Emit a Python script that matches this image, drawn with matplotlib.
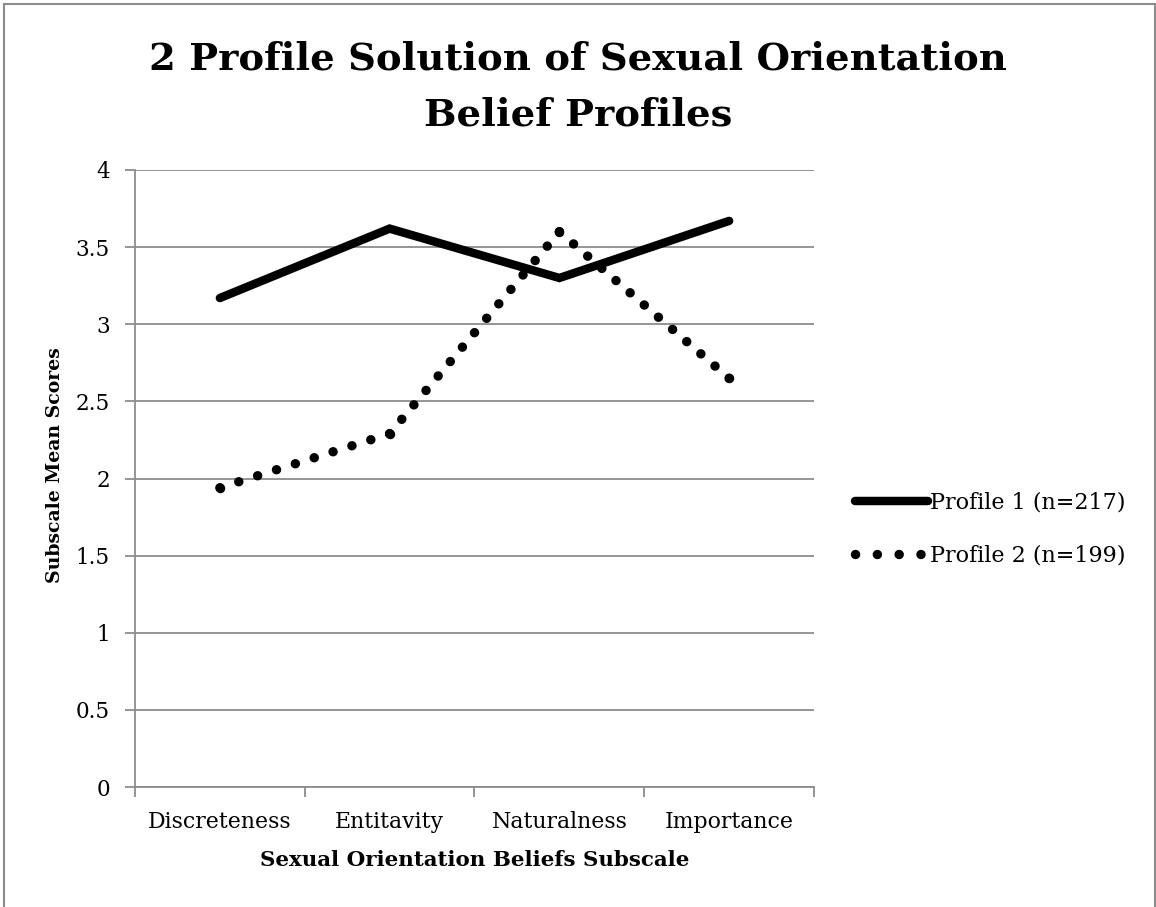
import matplotlib
matplotlib.use("Agg")
import matplotlib.pyplot as plt
from matplotlib.patches import Rectangle
from matplotlib.lines import Line2D
import numpy as np

categories = ["Discreteness", "Entitavity", "Naturalness", "Importance"]
profile1 = [3.17, 3.62, 3.30, 3.67]
profile2 = [1.94, 2.29, 3.60, 2.65]
label1 = "Profile 1 (n=217)"
label2 = "Profile 2 (n=199)"
yticks = [0, 0.5, 1, 1.5, 2, 2.5, 3, 3.5, 4]
title_lines = ["2 Profile Solution of Sexual Orientation", "Belief Profiles"]
xlabel = "Sexual Orientation Beliefs Subscale"
ylabel = "Subscale Mean Scores"

FONT = "DejaVu Serif"
plt.rcParams["font.family"] = FONT

DPI = 100
W, H = 1156, 907
fig = plt.figure(figsize=(W / DPI, H / DPI), dpi=DPI)
L, R, T, B = 135, 814, 170, 787
ax = fig.add_axes([L / W, 1 - B / H, (R - L) / W, (B - T) / H])

x = np.arange(len(categories))
ax.set_xlim(-0.5, len(categories) - 0.5)
ax.set_ylim(0, 4)

grid_c = "#8c8c8c"
ax.set_yticks(yticks)
ax.set_yticklabels([f"{v:g}" for v in yticks], fontsize=15.5)
ax.yaxis.grid(True, color=grid_c, linewidth=1.3)
ax.set_axisbelow(True)
ax.set_xticks(x)
ax.set_xticklabels(categories, fontsize=15.8)
ax.set_xticks(np.arange(-0.5, len(categories), 1), minor=True)
ax.tick_params(axis="x", which="major", length=0, pad=17.5)
ax.tick_params(axis="x", which="minor", length=7, color=grid_c, width=1.3, direction="out")
ax.tick_params(axis="y", length=7, color=grid_c, width=1.3, pad=11)
for s in ["top", "right"]:
    ax.spines[s].set_visible(False)
for s in ["left", "bottom"]:
    ax.spines[s].set_color(grid_c)
    ax.spines[s].set_linewidth(1.3)

# Profile 1: solid line
LW1 = 6.1
ax.plot(x, profile1, color="black", linewidth=LW1, solid_capstyle="round",
        solid_joinstyle="miter", zorder=3)

# Profile 2: round-dot line, dots evenly spaced on each segment
LW2 = 6.8
target_px = 19.5
lw_px = LW2 * DPI / 72
disp = ax.transData.transform(np.column_stack([x, profile2]))
for i in range(len(x) - 1):
    seg_len = np.hypot(*(disp[i + 1] - disp[i]))
    n_gaps = max(1, int(round(seg_len / target_px)))
    period = seg_len / n_gaps
    gap = period / lw_px - 0.01
    ax.plot(x[i:i + 2], profile2[i:i + 2], color="black", linewidth=LW2,
            linestyle=(0, (0.01, gap)), dash_capstyle="round", zorder=3)
ax.plot(x, profile2, linestyle="none", marker="o", markersize=LW2,
        markerfacecolor="black", markeredgewidth=0, zorder=3)

ax.set_xlabel(xlabel, fontsize=15.4, fontweight="bold")
ax.xaxis.set_label_coords(0.5, (B - 850) / (B - T))
ax.set_ylabel(ylabel, fontsize=13.6, fontweight="bold")
ax.yaxis.set_label_coords((64 - L) / (R - L), (B - 465) / (B - T))

fig.text(578 / W, 1 - 70 / H, title_lines[0], ha="center", va="baseline",
         fontsize=27.7, fontweight="bold")
fig.text(578 / W, 1 - 126 / H, title_lines[1], ha="center", va="baseline",
         fontsize=27.7, fontweight="bold")

handles = [
    Line2D([], [], color="black", linewidth=LW1, solid_capstyle="round"),
    Line2D([], [], color="black", linewidth=LW2, linestyle=(0, (0.01, 2.3)),
           dash_capstyle="round"),
]
fig.legend(handles, [label1, label2], loc="center left",
           bbox_to_anchor=(846 / W, 1 - 529 / H), frameon=False, fontsize=16,
           handlelength=3.3, handletextpad=0.1, labelspacing=1.38,
           borderaxespad=0)

fig.add_artist(Rectangle((3.5 / W, -0.01), (1154.5 - 3.5) / W, 1 - 4 / H + 0.01,
                         transform=fig.transFigure, fill=False,
                         edgecolor="#8c8c8c", linewidth=1.5))

fig.savefig("out.png", dpi=DPI)
